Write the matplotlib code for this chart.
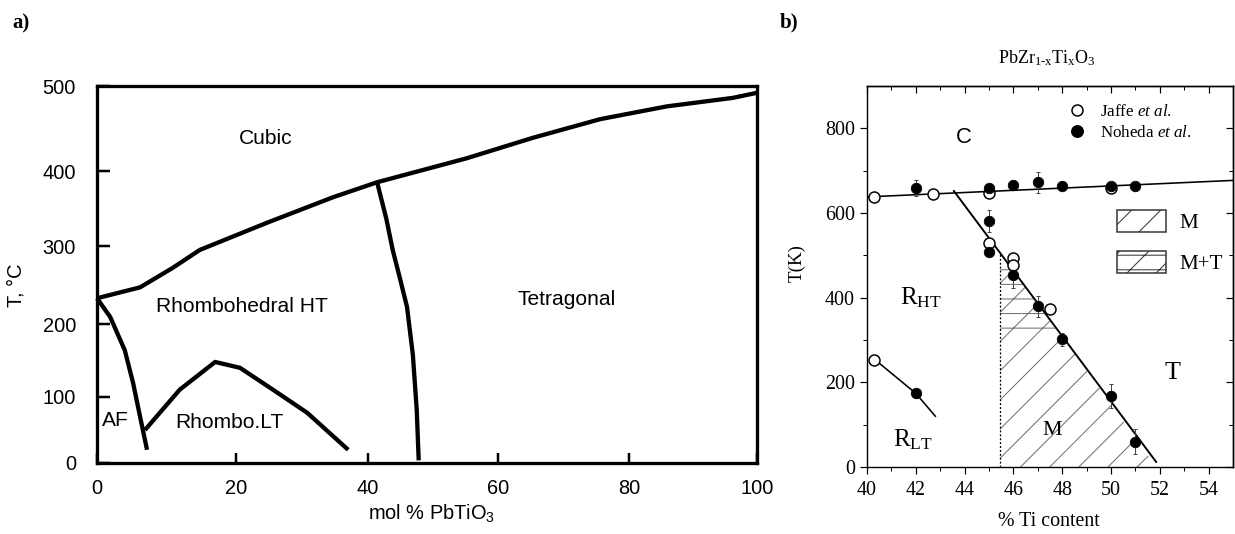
import numpy as np
import matplotlib
matplotlib.use('Agg')
import matplotlib.pyplot as plt
from matplotlib.patches import Patch
from matplotlib.lines import Line2D

# ---------------- data: panel a (PZT phase diagram, deg C) ----------------
a_cubic_x = [0, 6.2, 10.9, 14.8, 24.7, 34.7, 41.4, 55.2, 65.3, 75.6, 85.9, 96.2, 100]
a_cubic_y = [233, 247, 272, 295, 331, 365, 385, 415, 439, 461, 476, 486, 492]
a_mpb_x = [41.4, 42.8, 43.8, 44.9, 46.0, 46.9, 47.5, 47.8]
a_mpb_y = [385, 337, 295, 259, 222, 158, 80, 4]
a_af_x = [0, 1.9, 4.0, 5.2, 6.2, 7.2]
a_af_y = [233, 209, 164, 119, 70, 20]
a_lt_x = [6.9, 11.9, 17.0, 20.6, 25.6, 30.8, 37.0]
a_lt_y = [50, 110, 148, 140, 110, 76, 20]
a_labels = ['Cubic', 'Rhombohedral HT', 'AF', 'Rhombo.LT', 'Tetragonal']
a_label_x = [24.5, 20.9, 2.7, 19.1, 70.5]
a_label_y = [438, 222, 65, 61, 232]
a_xticks = [0, 20, 40, 60, 80, 100]
a_yticks = [0, 100, 200, 300, 400, 500]

# ---------------- data: panel b (T in K) ----------------
jaffe_x = [40.3, 42.7, 45.0, 45.0, 46.0, 46.0, 47.5, 40.3, 50.0]
jaffe_y = [638, 644, 648, 528, 494, 477, 373, 252, 660]
noheda_x = [42.0, 45.0, 45.0, 45.0, 46.0, 46.0, 47.0, 47.0, 48.0, 48.0, 50.0, 50.0, 51.0, 51.0, 42.0]
noheda_y = [659, 659, 581, 507, 667, 453, 673, 380, 663, 302, 663, 168, 663, 60, 174]
noheda_err = [20, 8, 25, 8, 8, 30, 25, 25, 8, 15, 8, 28, 8, 30, 10]
b_top_x = [40, 55]
b_top_y = [638, 677]
b_mpb_x = [43.56, 51.85]
b_mpb_y = [652, 12]
b_rlt_x = [40.4, 42.0, 42.8]
b_rlt_y = [250, 174, 120]
m_left_x = 45.45          # dotted boundary of the monoclinic region
mt_lower_y = 310          # lower limit of the M+T region

# ---------------- figure setup ----------------
DPI = 175
PX = 72.0 / DPI           # points per pixel
W, H = 1235, 534

plt.rcParams['mathtext.fontset'] = 'custom'
plt.rcParams['mathtext.rm'] = 'Liberation Serif'
plt.rcParams['mathtext.it'] = 'Liberation Serif:italic'
plt.rcParams['mathtext.sf'] = 'Liberation Sans'
plt.rcParams['hatch.linewidth'] = 1.0 * PX

SANS = 'Liberation Sans'
SERIF = 'Liberation Serif'

fig = plt.figure(figsize=(W / DPI, H / DPI), dpi=DPI)

# ====================== panel a ======================
axa = fig.add_axes([97 / W, (H - 463) / H, 660 / W, 377 / H])
# calibration of the (slightly non-uniform) original axes
a_xtick_pos = [0, 139, 271, 401, 532, 660]
a_ytick_pos = [0, 66, 139, 217, 292, 377]
axa.set_xscale('function', functions=(lambda v: np.interp(v, a_xticks, a_xtick_pos),
                                      lambda p: np.interp(p, a_xtick_pos, a_xticks)))
axa.set_yscale('function', functions=(lambda v: np.interp(v, a_yticks, a_ytick_pos),
                                      lambda p: np.interp(p, a_ytick_pos, a_yticks)))
axa.set_xlim(0, 100)
axa.set_ylim(0, 500)

lw_curve = 4.3 * PX
for xs, ys in [(a_cubic_x, a_cubic_y), (a_mpb_x, a_mpb_y), (a_af_x, a_af_y), (a_lt_x, a_lt_y)]:
    axa.plot(xs, ys, color='black', lw=lw_curve, solid_joinstyle='round',
             solid_capstyle='butt', clip_on=False)

for s in axa.spines.values():
    s.set_linewidth(3.3 * PX)
axa.set_xticks(a_xticks)
axa.set_yticks(a_yticks)
axa.set_xticklabels([str(v) for v in a_xticks], fontfamily=SANS, fontsize=20 * PX)
axa.set_yticklabels([str(v) for v in a_yticks], fontfamily=SANS, fontsize=20 * PX)
axa.tick_params(axis='x', direction='in', length=10 * PX, width=2.5 * PX, pad=16 * PX)
axa.tick_params(axis='y', direction='in', length=13 * PX, width=2.5 * PX, pad=21 * PX)
axa.set_xlabel('mol % PbTiO$_\\mathsf{3}$', fontfamily=SANS, fontsize=20 * PX, va='center')
axa.xaxis.set_label_coords((432 - 97) / 660, (463 - 513) / 377)
axa.set_ylabel('T, °C', fontfamily=SANS, fontsize=20 * PX, va='center')
axa.yaxis.set_label_coords((16 - 97) / 660, (463 - 285) / 377)

for t, x, y in zip(a_labels, a_label_x, a_label_y):
    axa.text(x, y, t, ha='center', va='center', fontfamily=SANS, fontsize=21 * PX)

fig.text(12 / W, 1 - 23 / H, 'a)', ha='left', va='center', fontfamily=SERIF,
         fontweight='bold', fontsize=21 * PX)

# ====================== panel b ======================
axb = fig.add_axes([867 / W, (H - 467) / H, 366 / W, 381 / H])
axb.set_xlim(40, 55)
axb.set_ylim(0, 900)

hatch_col = '#6e6e6e'
y_top = np.interp(m_left_x, b_mpb_x, b_mpb_y)
line_x_at = lambda yy: np.interp(yy, b_mpb_y[::-1], b_mpb_x[::-1])
y_m = np.array([0, mt_lower_y])
axb.fill_betweenx(y_m, m_left_x, line_x_at(y_m), facecolor='none', edgecolor=hatch_col,
                  hatch='//', lw=0)
y_mt = np.array([mt_lower_y, y_top])
axb.fill_betweenx(y_mt, m_left_x, line_x_at(y_mt), facecolor='none', edgecolor=hatch_col,
                  hatch='//--', lw=0)
axb.plot([m_left_x, m_left_x], [0, y_top], color='black', lw=1.3 * PX, ls=(0, (1.5, 1.5)))

lw_b = 1.6 * PX
axb.plot(b_top_x, b_top_y, color='black', lw=lw_b)
axb.plot(b_mpb_x, b_mpb_y, color='black', lw=lw_b * 1.2)
axb.plot(b_rlt_x, b_rlt_y, color='black', lw=lw_b)

axb.errorbar(noheda_x, noheda_y, yerr=noheda_err, fmt='none', ecolor='#444444',
             elinewidth=1.0 * PX, capsize=2.5 * PX, capthick=1.0 * PX, zorder=3)
axb.plot(jaffe_x, jaffe_y, 'o', ms=11 * PX, mfc='white', mec='black', mew=1.5 * PX,
         ls='none', zorder=4)
axb.plot(noheda_x, noheda_y, 'o', ms=10.5 * PX, mfc='black', mec='black', mew=0.8 * PX,
         ls='none', zorder=5)

for s in axb.spines.values():
    s.set_linewidth(1.4 * PX)
axb.set_xticks(np.arange(40, 55, 2))
axb.set_xticks(np.arange(41, 55, 2), minor=True)
axb.set_yticks(np.arange(0, 900, 200))
axb.set_yticks(np.arange(100, 900, 200), minor=True)
for lab in axb.get_xticklabels() + axb.get_yticklabels():
    lab.set_fontfamily(SERIF)
    lab.set_fontsize(20 * PX)
axb.tick_params(which='major', direction='out', length=7 * PX, width=1.2 * PX)
axb.tick_params(which='minor', direction='out', length=4 * PX, width=1.0 * PX)
axb.tick_params(axis='x', pad=7 * PX)
axb.tick_params(axis='y', pad=5 * PX)

sec_top = axb.secondary_xaxis('top')
sec_top.set_xticks(np.arange(40, 55, 2))
sec_top.set_xticks(np.arange(41, 55, 2), minor=True)
sec_top.tick_params(which='major', direction='in', length=7 * PX, width=1.2 * PX, labeltop=False)
sec_top.tick_params(which='minor', direction='in', length=4 * PX, width=1.0 * PX, labeltop=False)
sec_top.spines['top'].set_linewidth(1.4 * PX)
sec_right = axb.secondary_yaxis('right')
sec_right.set_yticks(np.arange(0, 900, 200))
sec_right.set_yticks(np.arange(100, 900, 200), minor=True)
sec_right.tick_params(which='major', direction='in', length=7 * PX, width=1.2 * PX, labelright=False)
sec_right.tick_params(which='minor', direction='in', length=4 * PX, width=1.0 * PX, labelright=False)
sec_right.spines['right'].set_linewidth(1.4 * PX)

axb.set_xlabel('% Ti content', fontfamily=SERIF, fontsize=20 * PX, va='center')
axb.xaxis.set_label_coords((1049 - 867) / 366, (467 - 522) / 381)
axb.set_ylabel('T(K)', fontfamily=SERIF, fontsize=19 * PX, va='center')
axb.yaxis.set_label_coords((797 - 867) / 366, (467 - 263) / 381)

axb.text(43.97, 779, 'C', ha='center', va='center', fontfamily=SANS, fontsize=22 * PX)
axb.text(42.2, 399, 'R$_{\\mathrm{HT}}$', ha='center', va='center', fontfamily=SERIF, fontsize=25 * PX)
axb.text(41.9, 64, 'R$_{\\mathrm{LT}}$', ha='center', va='center', fontfamily=SERIF, fontsize=25 * PX)
axb.text(52.5, 222, 'T', ha='center', va='center', fontfamily=SERIF, fontsize=26 * PX)
axb.text(47.6, 87, 'M', ha='center', va='center', fontfamily=SERIF, fontsize=22 * PX)

h1 = [Line2D([], [], marker='o', ls='none', ms=11 * PX, mfc='white', mec='black', mew=1.5 * PX),
      Line2D([], [], marker='o', ls='none', ms=10.5 * PX, mfc='black', mec='black')]
leg1 = axb.legend(h1, ['Jaffe $\\mathit{et\\ al}$.', 'Noheda $\\mathit{et\\ al}$.'],
                  loc='upper left', bbox_to_anchor=((1068 - 867) / 366, (467 - 104) / 381),
                  frameon=False, prop={'family': SERIF, 'size': 17 * PX},
                  handlelength=1.0, handletextpad=0.9, labelspacing=0.3, borderpad=0,
                  borderaxespad=0)
axb.add_artist(leg1)
h2 = [Patch(facecolor='white', edgecolor='#333333', hatch='//', lw=1.5 * PX),
      Patch(facecolor='white', edgecolor='#333333', hatch='//--', lw=1.5 * PX)]
leg2 = axb.legend(h2, ['M', 'M+T'], loc='upper left',
                  bbox_to_anchor=((1117 - 867) / 366, (467 - 210) / 381),
                  frameon=False, prop={'family': SERIF, 'size': 21 * PX},
                  handlelength=2.35, handleheight=1.25, handletextpad=0.6,
                  labelspacing=0.85, borderpad=0, borderaxespad=0)

fig.text(1047 / W, 1 - 58 / H, 'PbZr$_{\\mathrm{1\\text{-}x}}$Ti$_{\\mathrm{x}}$O$_{\\mathrm{3}}$',
         ha='center', va='center', fontfamily=SERIF, fontsize=18 * PX)
fig.text(780 / W, 1 - 22 / H, 'b)', ha='left', va='center', fontfamily=SERIF,
         fontweight='bold', fontsize=21 * PX)

fig.savefig('out.png', dpi=DPI)
